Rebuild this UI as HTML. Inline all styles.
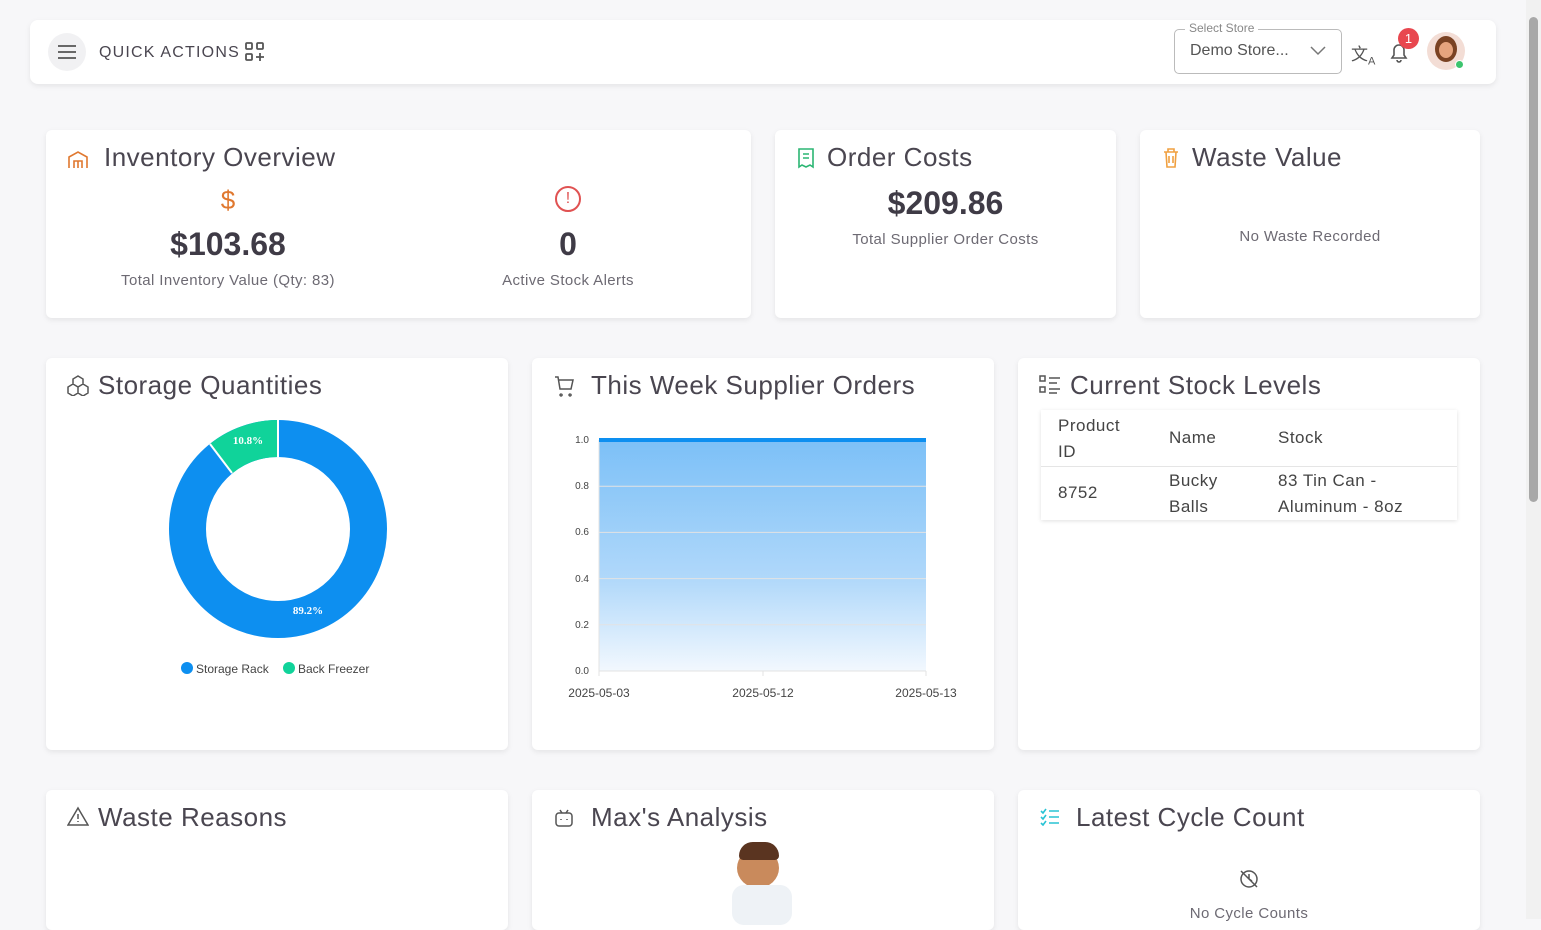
<!DOCTYPE html>
<html><head><meta charset="utf-8"><style>
*{box-sizing:border-box;margin:0;padding:0}
body{width:1541px;height:919px;overflow:hidden;background:#f7f7f9;font-family:"Liberation Sans",sans-serif;color:#3a3541;position:relative}
.card{position:absolute;background:#fff;border-radius:6px;box-shadow:0 2px 6px rgba(0,0,0,.08)}
.t{position:absolute;font-size:26px;color:#4a4650;letter-spacing:.5px}
.abs{position:absolute}
.c{text-align:center}
.sub{font-size:15px;color:#6d6a73;letter-spacing:.4px}
.big{font-size:32px;font-weight:bold;color:#3f3b46}
</style></head><body>
<div class="card" style="left:30px;top:20px;width:1466px;height:64px;border-radius:8px">
 <div class="abs" style="left:18px;top:13px;width:38px;height:38px;border-radius:50%;background:#f1f1f3"></div>
 <svg class="abs" style="left:28px;top:24px" width="18" height="16"><path d="M0 2H18M0 8H18M0 14H18" stroke="#555" stroke-width="1.8"/></svg>
 <div class="abs" style="left:69px;top:24px;font-size:16px;letter-spacing:1.2px;color:#4a4650">QUICK ACTIONS</div>
 <svg class="abs" style="left:215px;top:22px" width="20" height="20" fill="none" stroke="#555" stroke-width="1.8"><rect x="1" y="1" width="6" height="6" rx="1"/><rect x="12" y="1" width="6" height="6" rx="1"/><rect x="1" y="12" width="6" height="6" rx="1"/><path d="M15 11V19M11 15H19"/></svg>
 <div class="abs" style="left:1144px;top:9px;width:168px;height:45px;border:1px solid #bbb;border-radius:5px"></div>
 <div class="abs" style="left:1155px;top:1px;background:#fff;padding:0 4px;font-size:12px;color:#888">Select Store</div>
 <div class="abs" style="left:1160px;top:22px;font-size:16px;color:#555">Demo Store...</div>
 <svg class="abs" style="left:1280px;top:26px" width="16" height="10"><path d="M1 1L8 8L15 1" stroke="#777" fill="none" stroke-width="1.5"/></svg>
 <div class="abs" style="left:1321px;top:20px;font-size:17px;color:#555">文<sub style="font-size:11px">A</sub></div>
 <svg class="abs" style="left:1359px;top:22px" width="20" height="22" fill="none" stroke="#555" stroke-width="1.6"><path d="M3 16H17L15 13V8A5 5 0 0 0 5 8V13Z M8 18A2 2 0 0 0 12 18"/></svg>
 <div class="abs c" style="left:1368px;top:8px;width:21px;height:21px;border-radius:50%;background:#e8474f;color:#fff;font-size:13px;line-height:21px">1</div>
 <div class="abs" style="left:1397px;top:12px;width:38px;height:38px;border-radius:50%;background:#f3ddd5"></div>
 <div class="abs" style="left:1405px;top:16px;width:22px;height:26px;border-radius:50%;background:#7a4223"></div>
 <div class="abs" style="left:1409px;top:22px;width:14px;height:16px;border-radius:50%;background:#e6a47e"></div>
 <div class="abs" style="left:1425px;top:40px;width:9px;height:9px;border-radius:50%;background:#3cc46e;border:1px solid #fff"></div>
</div>

<div class="card" style="left:46px;top:130px;width:705px;height:188px">
 <svg class="abs" style="left:21px;top:20px" width="22" height="20" fill="none" stroke="#e0782f" stroke-width="1.6"><path d="M2 18V7L11 2L20 7V18M7 18V11H15V18M11 11V18"/></svg>
 <div class="t" style="left:58px;top:12px">Inventory Overview</div>
 <div class="abs c" style="left:0;top:55px;width:364px;color:#e0782f;font-size:26px">$</div>
 <div class="abs c big" style="left:0;top:96px;width:364px">$103.68</div>
 <div class="abs c sub" style="left:0;top:142px;width:364px">Total Inventory Value (Qty: 83)</div>
 <div class="abs c" style="left:509px;top:56px;width:26px;height:26px;border:2px solid #e05252;border-radius:50%;color:#e05252;font-size:16px;line-height:22px">!</div>
 <div class="abs c big" style="left:340px;top:96px;width:364px">0</div>
 <div class="abs c sub" style="left:340px;top:142px;width:364px">Active Stock Alerts</div>
</div>
<div class="card" style="left:775px;top:130px;width:341px;height:188px">
 <svg class="abs" style="left:22px;top:17px" width="18" height="22" fill="none" stroke="#2bb673" stroke-width="1.6"><path d="M2 2H16V20L13 18L9 20L5 18L2 20Z M6 7H12M6 11H12"/></svg>
 <div class="t" style="left:52px;top:12px">Order Costs</div>
 <div class="abs c big" style="left:0;top:55px;width:341px">$209.86</div>
 <div class="abs c sub" style="left:0;top:101px;width:341px">Total Supplier Order Costs</div>
</div>
<div class="card" style="left:1140px;top:130px;width:340px;height:188px">
 <svg class="abs" style="left:22px;top:17px" width="18" height="22" fill="none" stroke="#f0a040" stroke-width="1.6"><path d="M2 5H16M6 5V2H12V5M4 5L5 20H13L14 5M7 9V16M11 9V16"/></svg>
 <div class="t" style="left:52px;top:12px">Waste Value</div>
 <div class="abs c sub" style="left:0;top:98px;width:340px">No Waste Recorded</div>
</div>

<div class="card" style="left:46px;top:358px;width:462px;height:392px">
 <svg class="abs" style="left:20px;top:16px" width="24" height="22" fill="none" stroke="#555" stroke-width="1.5"><path d="M12 2L17 5V10L12 13L7 10V5Z M7 10L12 13V19L7 22L2 19V13Z M17 10L22 13V19L17 22L12 19V13Z"/></svg>
 <div class="t" style="left:52px;top:12px">Storage Quantities</div>
 <svg class="abs" style="left:0;top:0" width="462" height="392">
  <circle cx="232" cy="171" r="90.5" fill="none" stroke="#0d8ff0" stroke-width="37"/>
  <circle cx="232" cy="171" r="90.5" fill="none" stroke="#10d39a" stroke-width="37" stroke-dasharray="61.4 600" style="transform-origin:232px 171px;transform:rotate(-90deg) scaleY(-1)"/>
  <line x1="232" y1="62" x2="232" y2="99" stroke="#fff" stroke-width="2"/>
  <line x1="164" y1="86" x2="186" y2="115" stroke="#fff" stroke-width="2"/>
  <text x="202" y="86" font-size="11" font-weight="bold" fill="#fff" text-anchor="middle" font-family="Liberation Serif">10.8%</text>
  <text x="262" y="256" font-size="11" font-weight="bold" fill="#fff" text-anchor="middle" font-family="Liberation Serif">89.2%</text>
  <circle cx="141" cy="310" r="6" fill="#0d8ff0"/><text x="150" y="315" font-size="12" fill="#444">Storage Rack</text>
  <circle cx="243" cy="310" r="6" fill="#10d39a"/><text x="252" y="315" font-size="12" fill="#444">Back Freezer</text>
 </svg>
</div>

<div class="card" style="left:532px;top:358px;width:462px;height:392px">
 <svg class="abs" style="left:22px;top:17px" width="22" height="22" fill="none" stroke="#555" stroke-width="1.5"><path d="M1 2H4L6 14H17L19 5H5 M7 19A1 1 0 1 0 7.1 19M16 19A1 1 0 1 0 16.1 19"/></svg>
 <div class="t" style="left:59px;top:12px">This Week Supplier Orders</div>
 <svg class="abs" style="left:0;top:0" width="462" height="392">
  <defs><linearGradient id="g" x1="0" y1="0" x2="0" y2="1"><stop offset="0" stop-color="#7cc0f7"/><stop offset=".6" stop-color="#b0d8fa"/><stop offset="1" stop-color="#f2f8fe"/></linearGradient></defs>
  <rect x="67" y="82" width="327" height="231" fill="url(#g)"/>
  <g stroke="#e3e3e3" stroke-width="1"><line x1="67" y1="128.2" x2="394" y2="128.2"/><line x1="67" y1="174.4" x2="394" y2="174.4"/><line x1="67" y1="220.6" x2="394" y2="220.6"/><line x1="67" y1="266.8" x2="394" y2="266.8"/><line x1="67" y1="313" x2="394" y2="313"/><line x1="67" y1="82" x2="67" y2="318"/><line x1="231" y1="313" x2="231" y2="318"/><line x1="394" y1="313" x2="394" y2="318"/></g>
  <line x1="67" y1="82" x2="394" y2="82" stroke="#0d8ff0" stroke-width="4"/>
  <g font-size="10" fill="#444" text-anchor="end"><text x="57" y="85">1.0</text><text x="57" y="131">0.8</text><text x="57" y="177">0.6</text><text x="57" y="224">0.4</text><text x="57" y="270">0.2</text><text x="57" y="316">0.0</text></g>
  <g font-size="12" fill="#444" text-anchor="middle"><text x="67" y="339">2025-05-03</text><text x="231" y="339">2025-05-12</text><text x="394" y="339">2025-05-13</text></g>
 </svg>
</div>

<div class="card" style="left:1018px;top:358px;width:462px;height:392px">
 <svg class="abs" style="left:21px;top:17px" width="22" height="20" fill="none" stroke="#555" stroke-width="1.5"><rect x="1" y="1" width="5" height="5"/><rect x="1" y="12" width="5" height="5"/><path d="M10 3H21M10 8H18M10 14H21M10 18H18"/></svg>
 <div class="t" style="left:52px;top:12px">Current Stock Levels</div>
 <div class="abs" style="left:23px;top:52px;width:416px;height:110px;box-shadow:0 1px 4px rgba(0,0,0,.12);font-size:17px;color:#444;letter-spacing:.5px">
  <div class="abs" style="left:17px;top:3px;line-height:26px">Product<br>ID</div>
  <div class="abs" style="left:128px;top:18px">Name</div>
  <div class="abs" style="left:237px;top:18px">Stock</div>
  <div class="abs" style="left:0;top:56px;width:416px;border-top:1px solid #e5e5e5"></div>
  <div class="abs" style="left:17px;top:73px">8752</div>
  <div class="abs" style="left:128px;top:58px;line-height:26px">Bucky<br>Balls</div>
  <div class="abs" style="left:237px;top:58px;line-height:26px">83 Tin Can -<br>Aluminum - 8oz</div>
 </div>
</div>

<div class="card" style="left:46px;top:790px;width:462px;height:140px">
 <svg class="abs" style="left:21px;top:16px" width="22" height="20" fill="none" stroke="#555" stroke-width="1.5"><path d="M11 2L21 19H1Z M11 8V13M11 15V16"/></svg>
 <div class="t" style="left:52px;top:12px">Waste Reasons</div>
</div>
<div class="card" style="left:532px;top:790px;width:462px;height:140px">
 <svg class="abs" style="left:22px;top:18px" width="20" height="20" fill="none" stroke="#555" stroke-width="1.5"><rect x="2" y="5" width="16" height="13" rx="3"/><path d="M6 2L8 5M14 2L12 5M7 11V12M13 11V12"/></svg>
 <div class="t" style="left:59px;top:12px">Max's Analysis</div>
 <div class="abs" style="left:205px;top:58px;width:42px;height:40px;border-radius:50%;background:#c98a5c"></div>
 <div class="abs" style="left:207px;top:52px;width:40px;height:18px;border-radius:20px 20px 6px 6px;background:#5a3420"></div>
 <div class="abs" style="left:200px;top:95px;width:60px;height:40px;border-radius:12px;background:#eef2f6"></div>
</div>
<div class="card" style="left:1018px;top:790px;width:462px;height:140px">
 <svg class="abs" style="left:22px;top:18px" width="20" height="18" fill="none" stroke="#28c3d4" stroke-width="1.6"><path d="M1 3L3 5L6 1M1 9L3 11L6 7M1 15L3 17L6 13M9 3H19M9 9H19M9 15H19"/></svg>
 <div class="t" style="left:58px;top:12px">Latest Cycle Count</div>
 <svg class="abs" style="left:221px;top:79px" width="20" height="20" fill="none" stroke="#555" stroke-width="1.5"><circle cx="10" cy="10" r="8"/><path d="M2 2L18 18M10 5V10L13 12"/></svg>
 <div class="abs c sub" style="left:0;top:115px;width:462px">No Cycle Counts</div>
</div>

<div class="abs" style="left:1526px;top:0;width:15px;height:919px;background:#f1f1f1"></div>
<div class="abs" style="left:1529px;top:17px;width:9px;height:485px;border-radius:5px;background:#a8a8a8"></div>
</body></html>
